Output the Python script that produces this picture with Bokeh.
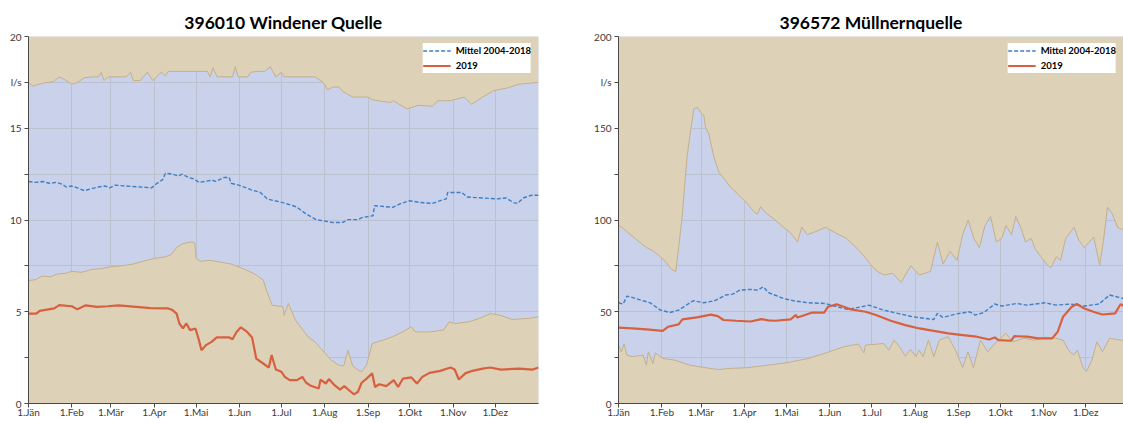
from bokeh.plotting import figure
from bokeh.models import Range1d, FixedTicker
from bokeh.layouts import row
from bokeh.embed import file_html
from bokeh.resources import INLINE

MONTH_DAYS = [0, 31, 59, 90, 120, 151, 181, 212, 243, 273, 304, 334]
MONTH_LABELS = ["1.Jän", "1.Feb", "1.Mär", "1.Apr", "1.Mai", "1.Jun",
                "1.Jul", "1.Aug", "1.Sep", "1.Okt", "1.Nov", "1.Dez"]

# ---------------- 396010 Windener Quelle (l/s) ----------------
W_TITLE = "396010 Windener Quelle"
W_YTICKS = [0, 2.5, 5, 7.5, 10, 12.5, 15, 17.5, 20]
W_YLABELS = ["0", "", "5", "", "10", "", "15", "l/s", "20"]

W_MAX = [(0, 17.5), (3, 17.3), (10, 17.45), (18, 17.55), (22, 17.8), (27, 17.6), (31, 17.4),
         (35, 17.5), (40, 17.75), (46, 17.8), (50, 17.8), (52, 18.05), (54, 17.6), (57, 17.8),
         (70, 17.8), (73, 18.05), (75, 17.6), (80, 17.6), (85, 18.05), (89, 17.6), (95, 18.05),
         (98, 17.85), (100, 18.1), (128, 18.1), (130, 17.8), (132, 18.3), (135, 17.8), (146, 17.8),
         (148, 18.35), (150, 17.8), (157, 17.8), (159, 18.05), (164, 18.1), (169, 18.1),
         (173, 18.35), (177, 17.8), (181, 18.05), (183, 17.8), (205, 17.8), (211, 17.5),
         (214, 17.1), (218, 17.25), (222, 17.25), (225, 17.0), (232, 16.7), (243, 16.7),
         (246, 16.55), (259, 16.4), (261, 16.5), (271, 16.05), (279, 16.25), (289, 16.2),
         (293, 16.5), (302, 16.5), (312, 16.7), (317, 16.3), (325, 16.7), (333, 17.05),
         (343, 17.2), (351, 17.4), (365, 17.5)]

W_MIN = [(0, 6.7), (5, 6.75), (10, 6.95), (16, 6.9), (20, 7.05), (27, 7.1), (31, 7.2), (38, 7.15),
         (45, 7.3), (52, 7.35), (59, 7.45), (66, 7.5), (75, 7.6), (82, 7.75), (90, 7.9), (98, 8.0),
         (102, 8.1), (106, 8.5), (110, 8.7), (116, 8.8), (119, 8.75), (120, 7.9), (123, 7.75),
         (130, 7.8), (138, 7.7), (145, 7.6), (152, 7.4), (158, 7.2), (163, 7.0), (168, 6.73),
         (170.6, 6.1), (174.4, 5.36), (182, 5.27), (183, 4.8), (186, 5.45), (191, 4.55),
         (200, 3.64), (205, 3.36), (211.5, 2.8), (216.6, 2.36), (221.8, 2.1), (225.6, 2.04),
         (228.7, 2.9), (232, 2.04), (235.8, 1.82), (238.4, 1.73), (242, 2.1), (246, 3.27),
         (253.7, 3.45), (261.4, 3.67), (267.8, 3.9), (274, 4.18), (276.8, 3.9), (287, 3.9),
         (297, 4.0), (301, 4.45), (305, 4.36), (315, 4.45), (322.8, 4.64), (330.5, 4.9),
         (338, 4.8), (345.8, 4.58), (358.6, 4.64), (365, 4.73)]

W_MEAN = [(0, 12.1), (5, 12.05), (10, 12.1), (15, 12.0), (20, 12.05), (24, 11.95), (27, 11.8),
          (31, 11.85), (35, 11.75), (40, 11.6), (45, 11.7), (50, 11.8), (55, 11.85), (58, 11.75),
          (62, 11.9), (70, 11.85), (80, 11.8), (88, 11.75), (92, 12.0), (96, 12.2), (98, 12.55),
          (103, 12.5), (107, 12.4), (110, 12.5), (115, 12.3), (118, 12.25), (122, 12.05),
          (131.5, 12.17), (134, 12.1), (140, 12.32), (143.6, 12.32), (145, 12.0), (150.5, 11.9),
          (160, 11.63), (166, 11.5), (171, 11.14), (179, 11.0), (184, 10.9), (191.6, 10.72),
          (198.7, 10.33), (205.8, 10.02), (213, 9.93), (217.7, 9.86), (224.9, 9.87),
          (228.5, 10.02), (235.6, 10.02), (239, 10.14), (246.5, 10.23), (247.7, 10.78),
          (260.8, 10.69), (265.5, 10.87), (272.6, 11.05), (280, 10.96), (289, 10.9),
          (296, 11.09), (299, 11.15), (300, 11.5), (310, 11.5), (314, 11.25), (325, 11.2),
          (335, 11.15), (342, 11.2), (347, 10.95), (350, 10.9), (354, 11.2), (360, 11.35),
          (365, 11.35)]

W_2019 = [(0, 4.9), (5.6, 4.9), (8, 5.05), (18.4, 5.18), (22, 5.36), (31, 5.3), (35, 5.13),
          (41, 5.35), (49, 5.27), (56.8, 5.3), (64.5, 5.35), (77, 5.27), (87.5, 5.2), (100, 5.18),
          (103, 5.09), (106, 4.9), (108, 4.36), (110.5, 4.09), (113, 4.36), (115.6, 4.0),
          (119.5, 4.09), (122, 3.45), (123.8, 2.9), (127, 3.18), (131, 3.36), (134.8, 3.6),
          (143.7, 3.6), (146, 3.5), (148.9, 3.9), (152, 4.15), (156.5, 3.9), (160, 3.6),
          (163, 2.45), (168, 2.18), (172, 1.96), (174, 2.64), (177, 1.85), (181, 1.73),
          (183.4, 1.45), (187, 1.27), (192, 1.27), (196, 1.45), (198.7, 1.13), (202.5, 0.95),
          (207.7, 0.82), (209, 1.3), (212.8, 1.09), (215, 1.33), (219, 1.0), (223, 0.76),
          (226, 0.95), (230.7, 0.64), (233, 0.5), (235.8, 0.64), (238.4, 1.13), (242, 1.36),
          (246, 1.64), (248, 0.9), (251, 1.05), (256, 0.95), (261.4, 1.27), (264.5, 0.9),
          (268, 1.36), (274, 1.42), (278, 1.09), (281.9, 1.45), (287, 1.67), (294.7, 1.78),
          (302, 1.96), (305, 1.85), (308, 1.31), (312.6, 1.64), (317.7, 1.78), (325, 1.9),
          (330.5, 1.96), (338, 1.85), (351, 1.9), (361, 1.85), (365, 1.96)]

# ---------------- 396572 Müllnernquelle (l/s) ----------------
M_TITLE = "396572 Müllnernquelle"
M_YTICKS = [0, 25, 50, 75, 100, 125, 150, 175, 200]
M_YLABELS = ["0", "", "50", "", "100", "", "150", "l/s", "200"]

M_MAX = [(0, 97.3), (6, 93.7), (13, 89.2), (20, 85), (25, 83), (30, 80), (34, 77), (38, 73),
         (41, 72), (43, 85), (45.5, 101.8), (49, 134.3), (51.5, 148.7), (53.9, 160.5),
         (56.3, 161.4), (58.7, 158.7), (61, 156.9), (62.2, 150.5), (64.6, 146.9), (68.2, 134.3),
         (71.7, 126.2), (75.3, 122.6), (80, 118), (87.3, 112.6), (92, 109), (96.8, 104.5),
         (99.2, 103.2), (101.6, 107.2), (105, 104), (112, 100), (118, 96), (123, 93), (128, 88),
         (131, 96), (135, 92), (142, 94), (148, 96), (155, 93), (163, 90), (170, 85), (176, 80),
         (181, 75), (185, 72), (190, 70), (196, 71), (202, 66), (209, 75), (215, 70), (223, 72),
         (228, 88), (232, 76), (237, 83), (242, 78), (246, 92), (250, 100), (254, 90), (258, 85),
         (262, 97), (266, 102), (270, 88), (274, 90), (277, 97), (281, 92), (284, 102), (288, 95),
         (291, 88), (295, 90), (298, 84), (302, 80), (306, 76), (309, 74), (313, 80), (316, 78),
         (319.7, 90), (325.7, 96), (329, 89), (333, 85), (339.7, 90.7), (344, 75.3),
         (347, 90.7), (349.5, 107), (353, 103.4), (356.8, 96), (361, 94.4), (365, 92)]

M_MIN = [(0, 31.8), (2, 28.2), (4, 32.4), (6, 26.4), (9.8, 25.5), (17.5, 26.4), (20, 20.9),
         (21.3, 28.2), (24.6, 21.8), (26.4, 27.6), (31.6, 24.5), (40.6, 23.6), (50.8, 20.9),
         (61, 19.6), (71.4, 18.5), (79, 19.1), (92, 19.5), (107, 20.9), (120, 22.2),
         (135.6, 24.5), (148.4, 27.6), (161, 30.9), (171.5, 32.4), (175.4, 27.6), (176.6, 31.8),
         (189.5, 32.7), (193.3, 29.1), (197, 34.5), (201, 30.9), (205, 25.8), (208.7, 29.5),
         (212.6, 25.5), (215, 29.1), (217.7, 25.5), (221.6, 34.5), (225.4, 25.5), (229.3, 34.5),
         (235.7, 36.4), (240.8, 29.1), (246, 19.6), (249.8, 28.2), (253.7, 19.6), (258.8, 34.5),
         (264, 28.2), (269, 32.7), (276.8, 38.2), (282, 33.6), (289.6, 35.5), (297.3, 34.5),
         (305, 36), (312.7, 35.5), (317.8, 34.5), (321.7, 29.1), (325.6, 26.4), (328, 29.1),
         (332, 19.6), (334.5, 17.3), (338.4, 23.6), (342, 33.6), (346, 28.2), (351, 35.5),
         (359, 34.5), (365, 34.5)]

M_MEAN = [(0, 54.9), (3.3, 54.2), (6, 58.5), (9.8, 57.8), (17.5, 56), (22.6, 54.9), (30, 50.9),
          (36.7, 49.6), (43, 50.9), (49.6, 54.2), (53.4, 56), (61, 54.9), (68.8, 56), (76.5, 59.1),
          (81.6, 59.6), (86.8, 61.8), (94.5, 62.2), (99.6, 61.8), (103.5, 63.6), (107.3, 60.4),
          (117.6, 57.3), (125, 56), (135.5, 54.9), (148, 54.5), (156, 52.7), (163.8, 51.3),
          (174, 52.7), (179, 53.6), (189.5, 50.9), (199.7, 49.1), (210, 47.3), (219, 46.4),
          (225.4, 45.8), (228, 49.1), (231.8, 46.9), (240.8, 48.7), (251, 50), (255, 48.2),
          (261, 49.5), (269, 54.2), (274, 53.1), (284.5, 54.5), (292, 53.6), (305, 54.9),
          (312.7, 53.6), (323, 54.2), (333, 53.1), (343.5, 54.2), (351, 59.1), (356, 58.2),
          (361, 57.2), (365, 56.5)]

M_2019 = [(0, 41.3), (9.8, 40.9), (20, 40.4), (31.6, 39.6), (35.4, 41.8), (43, 43.1),
          (45.7, 45.8), (56, 46.9), (66, 48.4), (71, 47.6), (75, 45.5), (84, 45.1), (94.5, 44.7),
          (102, 46.0), (107, 45.3), (112, 45.1), (123, 45.8), (126.6, 48.2), (128, 46.9),
          (138, 49.5), (147, 49.5), (149.7, 52.7), (156, 54), (161, 52.7), (166, 51.3),
          (176.6, 50), (184, 48.2), (194.6, 45.1), (205, 42.7), (215, 40.9), (225.4, 39.6),
          (235.7, 38.2), (246, 37.3), (256, 36.4), (265, 34.9), (269, 36), (271.6, 34.5),
          (280.6, 34.2), (283, 36.7), (292, 36.4), (300, 35.5), (310, 35.5), (314, 39.1),
          (317.8, 47.3), (324, 52.7), (327.6, 54.2), (333, 51.8), (341, 49.6), (346, 48.5),
          (355, 49.1), (359, 54.2), (362, 52.6), (365, 52.0)]

TAN = "#ddd2b8"
BLUE_BAND = "#c9d2ea"
EDGE = "#c4af88"
GRID = "#bcc1d0"
RED = "#d8603f"
MEAN_BLUE = "#3f7fc6"
AXIS = "#4a4a4a"
FONT = "Lato"


def split(pairs):
    return [a for a, _ in pairs], [b for _, b in pairs]


def make_chart(title, ymax, yticks, ylabels, s_max, s_min, s_mean, s_2019,
               width, b_left, b_right, xend):
    p = figure(width=width, height=423, output_backend="svg", toolbar_location=None,
               x_range=Range1d(0, xend), y_range=Range1d(0, ymax),
               min_border_left=b_left, min_border_right=b_right,
               min_border_top=36, min_border_bottom=20)
    p.background_fill_color = BLUE_BAND
    p.border_fill_color = "white"
    p.outline_line_color = None

    p.title.text = title
    p.title.align = "center"
    p.title.text_font = FONT
    p.title.text_font_size = "17.5px"
    p.title.text_font_style = "bold"
    p.title.text_color = "#000000"
    p.title.standoff = 8

    xt = FixedTicker(ticks=MONTH_DAYS)
    yt = FixedTicker(ticks=yticks)
    p.xaxis.ticker = xt
    p.yaxis.ticker = yt
    p.xgrid.ticker = xt
    p.ygrid.ticker = yt
    p.xaxis.major_label_overrides = {d: l for d, l in zip(MONTH_DAYS, MONTH_LABELS)}
    p.yaxis.major_label_overrides = {t: l for t, l in zip(yticks, ylabels)}
    for ax in (p.xaxis, p.yaxis):
        ax.axis_line_color = AXIS
        ax.major_tick_line_color = AXIS
        ax.minor_tick_line_color = None
        ax.major_tick_in = 0
        ax.major_tick_out = 4
        ax.major_label_text_font = FONT
        ax.major_label_text_font_size = "10px"
        ax.major_label_text_color = "#3a3a3a"
    p.xaxis.major_label_standoff = -2
    p.yaxis.major_label_standoff = 3
    for g in (p.xgrid, p.ygrid):
        g.grid_line_color = GRID
        g.grid_line_width = 1

    mx, my = split(s_max)
    nx, ny = split(s_min)
    ex, ey = split(s_mean)
    rx, ry = split(s_2019)

    p.varea(x=mx, y1=my, y2=ymax, fill_color=TAN)
    p.varea(x=nx, y1=0, y2=ny, fill_color=TAN)
    p.line(mx, my, line_color=EDGE, line_width=1)
    p.line(nx, ny, line_color=EDGE, line_width=1)
    p.line(ex, ey, line_color=MEAN_BLUE, line_width=1.4, line_dash="4 2",
           legend_label="Mittel 2004-2018")
    p.line(rx, ry, line_color=RED, line_width=2.2, legend_label="2019")

    lg = p.legend[0]
    lg.location = "top_right"
    lg.margin = 7
    lg.padding = 3
    lg.spacing = 0
    lg.label_height = 15
    lg.glyph_height = 15
    lg.glyph_width = 28
    lg.label_standoff = 5
    lg.label_text_font = FONT
    lg.label_text_font_size = "9.5px"
    lg.label_text_font_style = "bold"
    lg.label_text_color = "#000000"
    lg.background_fill_color = "white"
    lg.background_fill_alpha = 1
    lg.border_line_color = None
    return p


p1 = make_chart(W_TITLE, 20, W_YTICKS, W_YLABELS, W_MAX, W_MIN, W_MEAN, W_2019,
                560, 28, 22, 365)
p2 = make_chart(M_TITLE, 200, M_YTICKS, M_YLABELS, M_MAX, M_MIN, M_MEAN, M_2019,
                563, 58, 0, 361)

layout = row(p1, p2)
open("out.html", "w").write(file_html(layout, INLINE))
